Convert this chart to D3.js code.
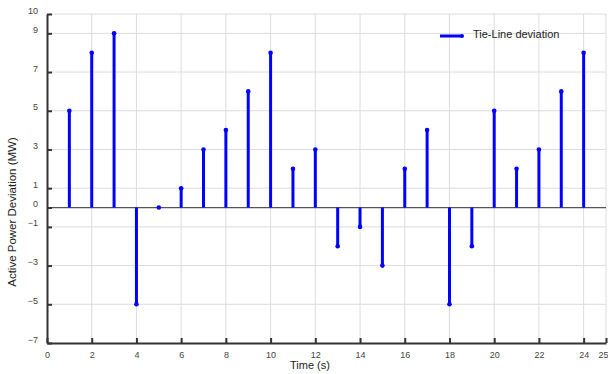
<!DOCTYPE html>
<html>
<head>
<meta charset="utf-8">
<script src="https://cdn.jsdelivr.net/npm/d3@7"></script>
<style>
  body { margin: 0; background: #fff; }
  svg { display: block; font-family: "Liberation Sans", Arial, sans-serif; }
</style>
</head>
<body>
<script>
// Data: tie-line active power deviation per second
const times = [1, 2, 3, 4, 5, 6, 7, 8, 9, 10, 11, 12, 13, 14, 15, 16, 17, 18, 19, 20, 21, 22, 23, 24];
const deviation = [5, 8, 9, -5, 0, 1, 3, 4, 6, 8, 2, 3, -2, -1, -3, 2, 4, -5, -2, 5, 2, 3, 6, 8];
const xTicks = [0, 2, 4, 6, 8, 10, 12, 14, 16, 18, 20, 22, 24, 25];
const yTicks = [10, 9, 7, 5, 3, 1, 0, -1, -3, -5, -7];
const seriesName = "Tie-Line deviation";

const width = 608;
const height = 374;
const margin = {top: 14, right: 2, bottom: 31, left: 47};

const stemColor = "#0000ff";
const gridColor = "#dcdcdc";
const axisColor = "#333";

const x = d3.scaleLinear().domain([0, 25]).range([margin.left, width - margin.right]);
const y = d3.scaleLinear().domain([-7, 10]).range([height - margin.bottom, margin.top]);

const svg = d3.select("body").append("svg")
    .attr("width", width)
    .attr("height", height);

// Grid lines
svg.append("g")
  .selectAll("line")
  .data(xTicks.filter(d => d > 0))
  .join("line")
    .attr("x1", d => x(d)).attr("x2", d => x(d))
    .attr("y1", y(10)).attr("y2", y(-7))
    .attr("stroke", gridColor)
    .attr("stroke-width", 1);

svg.append("g")
  .selectAll("line")
  .data(yTicks.filter(d => d !== 0 && d !== -7))
  .join("line")
    .attr("x1", x(0)).attr("x2", x(25))
    .attr("y1", d => y(d)).attr("y2", d => y(d))
    .attr("stroke", gridColor)
    .attr("stroke-width", 1);

// Zero line
svg.append("line")
    .attr("x1", x(0)).attr("x2", x(25))
    .attr("y1", y(0)).attr("y2", y(0))
    .attr("stroke", "#555")
    .attr("stroke-width", 1.2);

// Axes, ticks point inward
const xAxis = svg.append("g")
    .attr("transform", `translate(0,${y(-7)})`)
    .call(d3.axisBottom(x).tickValues(xTicks).tickSizeInner(-5).tickSizeOuter(0).tickPadding(9));

const yAxis = svg.append("g")
    .attr("transform", `translate(${x(0)},0)`)
    .call(d3.axisLeft(y).tickValues(yTicks).tickSizeInner(-5).tickSizeOuter(0).tickPadding(9));

[xAxis, yAxis].forEach(g => {
  g.select(".domain").attr("stroke", axisColor).attr("stroke-width", 2);
  g.selectAll(".tick line").attr("stroke", axisColor).attr("stroke-width", 2);
  g.selectAll(".tick text")
    .attr("fill", "#444")
    .style("font-size", "9px")
    .style("font-family", "Liberation Sans, Arial, sans-serif");
});
yAxis.selectAll(".tick text").attr("dy", "-0.1em");
// last x label sits at the right edge: keep it inside the window
xAxis.selectAll(".tick text").filter(d => d === 25).attr("dx", "-3");

// Stems
svg.append("g")
  .selectAll("line")
  .data(times)
  .join("line")
    .attr("x1", d => x(d)).attr("x2", d => x(d))
    .attr("y1", y(0))
    .attr("y2", (d, i) => y(deviation[i]))
    .attr("stroke", stemColor)
    .attr("stroke-width", 3);

svg.append("g")
  .selectAll("circle")
  .data(times)
  .join("circle")
    .attr("cx", d => x(d))
    .attr("cy", (d, i) => y(deviation[i]))
    .attr("r", 2.3)
    .attr("fill", stemColor);

// Axis labels
svg.append("text")
    .attr("x", 310)
    .attr("y", 369)
    .attr("text-anchor", "middle")
    .attr("fill", "#222")
    .style("font-size", "11px")
    .text("Time (s)");

svg.append("text")
    .attr("transform", "translate(16,212) rotate(-90)")
    .attr("text-anchor", "middle")
    .attr("fill", "#222")
    .style("font-size", "11.5px")
    .text("Active Power Deviation (MW)");

// Legend
const legend = svg.append("g");
legend.append("line")
    .attr("x1", 440).attr("x2", 462)
    .attr("y1", 36).attr("y2", 36)
    .attr("stroke", stemColor)
    .attr("stroke-width", 3);
legend.append("circle")
    .attr("cx", 462).attr("cy", 36).attr("r", 2)
    .attr("fill", stemColor);
legend.append("text")
    .attr("x", 473)
    .attr("y", 38)
    .attr("fill", "#222")
    .style("font-size", "11px")
    .text(seriesName);
</script>
</body>
</html>
